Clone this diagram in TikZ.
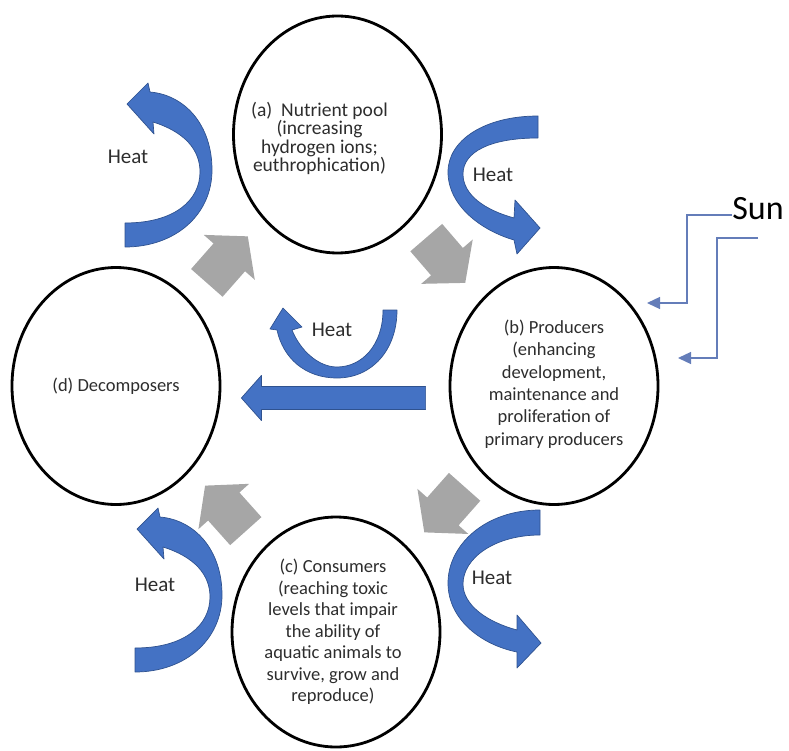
\documentclass[tikz,border=0pt]{standalone}
\usepackage{fontspec}
\setmainfont{Carlito}
\usetikzlibrary{shapes.geometric,arrows.meta,calc,positioning}

\definecolor{heatblue}{RGB}{68,114,196}
\definecolor{heatedge}{RGB}{47,82,143}
\definecolor{flowgray}{RGB}{166,166,166}
\definecolor{sunline}{RGB}{100,125,185}
\definecolor{inktext}{RGB}{45,45,45}

% block arrow: [style] {tail} {tip} {half shaft} {half head} {head length}
\newcommand{\blockarrow}[6][]{%
  \coordinate (ba-s) at (#2);
  \coordinate (ba-e) at (#3);
  \coordinate (ba-h) at ($(ba-e)!#6!(ba-s)$);
  \path[#1] ($(ba-s)!#4!90:(ba-e)$) -- ($(ba-h)!#4!-90:(ba-s)$)
    -- ($(ba-h)!#5!-90:(ba-s)$) -- (ba-e) -- ($(ba-h)!#5!90:(ba-s)$)
    -- ($(ba-h)!#4!90:(ba-s)$) -- ($(ba-s)!#4!-90:(ba-e)$) -- cycle;
}

\tikzset{
  pool/.style={ellipse, draw, line width=2.8pt, minimum width=208pt,
    minimum height=237pt, inner sep=0pt},
  pooltext/.style={align=center, text=inktext, inner sep=0pt,
    font=\fontsize{18.5}{22}\selectfont},
  heat/.style={fill=heatblue, draw=heatedge, line width=0.7pt, line join=round},
  heatlabel/.style={text=inktext, inner sep=0pt, font=\fontsize{21}{25}\selectfont},
  flow/.style={fill=flowgray},
  sunray/.style={draw=sunline, line width=1.3pt, -{Triangle[length=13pt,width=12pt]}},
  heatleft/.pic={
    \path[heat] (125,223) -- (125,247) .. controls (175,247) and (212,215) .. (212,170)
      .. controls (212,125) and (185,95) .. (150,92) -- (148,83) -- (127,104)
      -- (154,134) -- (153,122) .. controls (185,132) and (200,150) .. (200,172)
      .. controls (200,200) and (175,223) .. (125,223) -- cycle;
  },
}

\begin{document}
\begin{tikzpicture}[x=1pt, y=-1pt]
  \useasboundingbox (0,0) rectangle (789,751);

  % the four pools
  \node[pool] (a) at (337.5,134.5) {};
  \node[pool] (b) at (554,386) {};
  \node[pool, minimum height=230pt] (c) at (336,632) {};
  \node[pool] (d) at (116,386) {};

  \node[pooltext, font=\fontsize{19.5}{18.5}\selectfont] (a-txt) at ([shift={(-18,4)}]a.center)
    {(a)\ \ Nutrient pool\\(increasing\\hydrogen ions;\\euthrophication)};
  \node[pooltext, font=\fontsize{18.5}{22.4}\selectfont] (b-txt) at ([shift={(0,-2)}]b.center)
    {(b) Producers\\(enhancing\\development,\\maintenance and\\proliferation of\\primary producers};
  \node[pooltext, font=\fontsize{18.5}{21.5}\selectfont] (c-txt) at ([shift={(-3,0)}]c.center)
    {(c) Consumers\\(reaching toxic\\levels that impair\\the ability of\\aquatic animals to\\survive, grow and\\reproduce)};
  \node[pooltext] (d-txt) at (d.center) {(d) Decomposers};

  % cycle
  \blockarrow[flow]{$(d)!0.41!(a)$}{$(d)!0.595!(a)$}{21pt}{34pt}{28pt}
  \blockarrow[flow]{$(a)!0.41!(b)$}{$(a)!0.59!(b)$}{21pt}{34pt}{28pt}
  \blockarrow[flow]{$(b)!0.41!(c)$}{$(b)!0.595!(c)$}{21pt}{34pt}{28pt}
  \blockarrow[flow]{$(c)!0.41!(d)$}{$(c)!0.595!(d)$}{21pt}{34pt}{28pt}
  \blockarrow[heat]{[shift={(-23,12)}]b.west}{[shift={(20,12)}]d.east}{11.5pt}{22.5pt}{20pt}

  % heat losses
  \pic at (0,0) {heatleft};
  \pic at (10,425) {heatleft};
  \path[heat] (538,116) .. controls (485,116) and (448,140) .. (448,172)
    .. controls (448,205) and (480,230) .. (514,240) -- (517,254) -- (540,228)
    -- (515,200) -- (514,218) .. controls (485,210) and (463,195) .. (463,174)
    .. controls (463,152) and (490,138) .. (538,138) -- cycle;
  \path[heat] (540,510) .. controls (485,510) and (448,545) .. (448,583)
    .. controls (448,620) and (482,645) .. (517,652) -- (517,668) -- (541,643)
    -- (517,615) -- (517,630) .. controls (487,622) and (463,605) .. (463,584)
    .. controls (463,558) and (495,535) .. (540,535) -- cycle;
  \path[heat] (397,310) .. controls (397,350) and (372,378) .. (337,378)
    .. controls (305,378) and (283,358) .. (277,330) -- (270,329) -- (283,308)
    -- (302,327) -- (292,330) .. controls (300,350) and (318,367) .. (337,367)
    .. controls (362,367) and (383,345) .. (383,310) -- cycle;

  \node[heatlabel] (heat-tl) at (128,157) {Heat};
  \node[heatlabel] (heat-tr) at (493,175) {Heat};
  \node[heatlabel] (heat-mid) at (332,330) {Heat};
  \node[heatlabel] (heat-bl) at (155,585) {Heat};
  \node[heatlabel] (heat-br) at (492,578) {Heat};

  % sun
  \node[inner sep=0pt, font=\fontsize{34}{40}\selectfont] (sun) at (758,209) {Sun};
  \coordinate (ray1) at (647,303);
  \coordinate (ray2) at (678,358);
  \draw[sunray] ([shift={(0,6)}]sun.west) -| (687,303) -- (ray1);
  \draw[sunray] ([shift={(0,29)}]sun.center) -| (717,358) -- (ray2);
\end{tikzpicture}
\end{document}
